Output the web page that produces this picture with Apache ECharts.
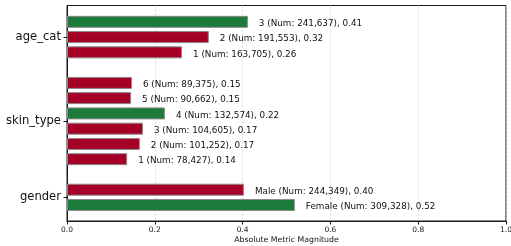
<!DOCTYPE html>
<html>
<head>
<meta charset="utf-8">
<script src="https://cdn.jsdelivr.net/npm/echarts@6/dist/echarts.min.js"></script>
<style>
  html, body { margin: 0; padding: 0; background: #fff; }
  #chart { width: 511px; height: 246px; }
</style>
</head>
<body>
<div id="chart"></div>
<script>
// bars listed bottom to top, '' = empty slot between groups
var barNames = ['Female', 'Male', '', '1', '2', '3', '4', '5', '6', '', '1', '2', '3'];
var barValues = [0.519, 0.403, null, 0.137, 0.166, 0.173, 0.223, 0.146, 0.148, null, 0.262, 0.323, 0.412];
var barCounts = [309328, 244349, null, 78427, 101252, 104605, 132574, 90662, 89375, null, 163705, 191553, 241637];
var barIsTop = [true, false, false, false, false, false, true, false, false, false, false, false, true];

var groupNames = ['gender', 'skin_type', 'age_cat'];
var groupPos = [0.5, 5.5, 11];

var GREEN = '#1c7a3a';
var RED = '#a50026';
var FONT = 'DejaVu Sans';

var chart = echarts.init(document.getElementById('chart'));

var seriesData = barValues.map(function (v, i) {
    if (v === null) return { value: null };
    return {
        value: v,
        itemStyle: { color: barIsTop[i] ? GREEN : RED }
    };
});

var option = {
    backgroundColor: '#fff',
    animation: false,
    grid: [
        // frame + axes
        { left: 67, right: 5, top: 5.5, bottom: 25, outerBoundsMode: 'none', show: true, borderColor: '#1a1a1a', borderWidth: 1, backgroundColor: 'transparent' },
        // bars (slots -0.5 .. 12.5 inside range -1.05 .. 13.05)
        { left: 67, right: 5, top: 14.2, bottom: 33.4, outerBoundsMode: 'none' }
    ],
    xAxis: [
        {
            gridIndex: 0,
            type: 'value',
            min: 0,
            max: 1,
            interval: 0.2,
            name: 'Absolute Metric Magnitude',
            nameLocation: 'middle',
            nameGap: 15,
            nameMoveOverlap: false,
            nameTextStyle: { fontFamily: FONT, fontSize: 7.8, color: '#111' },
            axisLine: { show: true, onZero: false, lineStyle: { color: '#1a1a1a', width: 1 } },
            axisTick: { show: true, length: 3.5, lineStyle: { color: '#1a1a1a' } },
            axisLabel: {
                fontFamily: FONT, fontSize: 7.5, color: '#222', margin: 5,
                formatter: function (v) { return v.toFixed(1); }
            },
            splitLine: { show: true, lineStyle: { color: '#cccccc', type: [2, 2], width: 0.8 } }
        },
        {
            gridIndex: 1,
            type: 'value',
            min: 0,
            max: 1,
            show: false
        }
    ],
    yAxis: [
        {
            gridIndex: 0,
            type: 'value',
            min: -1.05,
            max: 13.05,
            axisLine: { show: true, onZero: false, lineStyle: { color: '#1a1a1a', width: 1 } },
            axisTick: { show: true, length: 3.5, customValues: groupPos, lineStyle: { color: '#1a1a1a' } },
            axisLabel: {
                show: true,
                customValues: groupPos,
                fontFamily: FONT, fontSize: 11.6, color: '#111', margin: 6,
                formatter: function (v) {
                    var k = groupPos.indexOf(v);
                    return k >= 0 ? groupNames[k] : '';
                }
            },
            splitLine: { show: false }
        },
        {
            gridIndex: 1,
            type: 'category',
            data: barNames,
            show: false
        }
    ],
    series: [
        {
            type: 'bar',
            xAxisIndex: 1,
            yAxisIndex: 1,
            data: seriesData,
            barWidth: 12,
            itemStyle: { borderColor: '#8a8a8a', borderWidth: 1 },
            label: {
                show: true,
                position: 'right',
                distance: 11,
                offset: [0, 2],
                fontFamily: FONT,
                fontSize: 8.8,
                color: '#111',
                formatter: function (p) {
                    var i = p.dataIndex;
                    if (barValues[i] === null) return '';
                    return barNames[i] + ' (Num: ' + barCounts[i].toLocaleString('en-US') + '), ' + barValues[i].toFixed(2);
                }
            }
        }
    ]
};

chart.setOption(option);
</script>
</body>
</html>
